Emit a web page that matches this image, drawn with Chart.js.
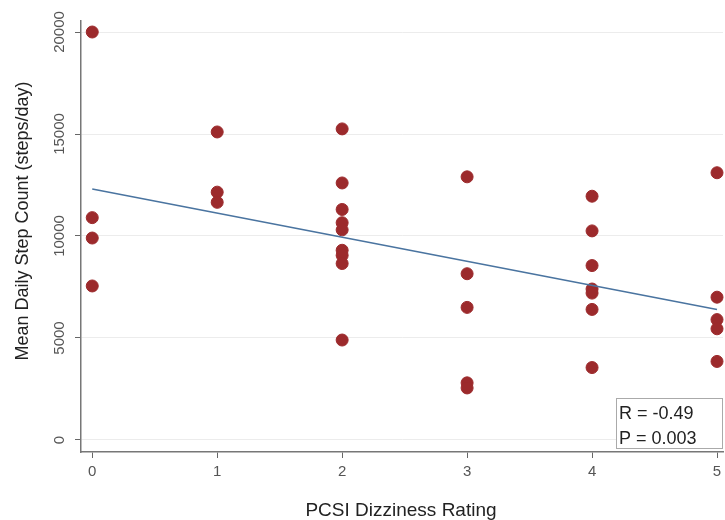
<!DOCTYPE html>
<html>
<head>
<meta charset="utf-8">
<script src="https://cdn.jsdelivr.net/npm/chart.js@4.4.1/dist/chart.umd.min.js"></script>
<style>
    html, body { margin: 0; padding: 0; background: #fff; }
    #wrap { width: 725px; height: 520px; position: relative; }
</style>
</head>
<body>
<div id="wrap"><canvas id="scatter"></canvas></div>
<script>
// dizziness rating (x) and mean daily steps (y) per participant
const dizziness = [
    0, 0, 0, 0,
    1, 1, 1,
    2, 2, 2, 2, 2, 2, 2, 2, 2,
    3, 3, 3, 3, 3,
    4, 4, 4, 4, 4, 4, 4,
    5, 5, 5, 5, 5
];
const steps = [
    20000, 10900, 9900, 7550,
    15100, 12150, 11650,
    15250, 12600, 11300, 10650, 10300, 9300, 9050, 8650, 4900,
    12900, 8150, 6500, 2800, 2550,
    11950, 10250, 8550, 7400, 7200, 6400, 3550,
    13100, 7000, 5900, 5450, 3850
];
const fitX = [0, 5];
const fitY = [12300, 6400];
const xTicks = [0, 1, 2, 3, 4, 5];
const yTicks = [0, 5000, 10000, 15000, 20000];
const statLines = ['R = -0.49', 'P = 0.003'];

const FONT = '"Liberation Sans", Arial, sans-serif';

// tick labels (y ones are vertical), axis titles and the stats box are drawn here
const extras = {
    id: 'extras',
    afterDraw(chart) {
        const ctx = chart.ctx;
        const x = chart.scales.x;
        const y = chart.scales.y;
        const area = chart.chartArea;
        ctx.save();

        ctx.fillStyle = '#555';
        ctx.font = '15px ' + FONT;
        ctx.textAlign = 'center';
        ctx.textBaseline = 'middle';
        yTicks.forEach(v => {
            ctx.save();
            ctx.translate(60, y.getPixelForValue(v));
            ctx.rotate(-Math.PI / 2);
            ctx.fillText(String(v), 0, 0);
            ctx.restore();
        });
        xTicks.forEach(v => {
            ctx.fillText(String(v), x.getPixelForValue(v), 472);
        });

        ctx.fillStyle = '#222';
        ctx.font = '18px ' + FONT;
        ctx.save();
        ctx.translate(23, 221);
        ctx.rotate(-Math.PI / 2);
        ctx.fillText('Mean Daily Step Count (steps/day)', 0, 0);
        ctx.restore();

        ctx.font = '19px ' + FONT;
        ctx.textBaseline = 'alphabetic';
        ctx.fillText('PCSI Dizziness Rating', 401, 516);

        // stats box
        const bx = area.right - 107, by = area.bottom - 54;
        ctx.fillStyle = '#fff';
        ctx.fillRect(bx, by, 107, 51);
        ctx.strokeStyle = '#aaa';
        ctx.lineWidth = 1;
        ctx.strokeRect(bx + 0.5, by + 0.5, 106, 50);
        ctx.fillStyle = '#222';
        ctx.textAlign = 'left';
        ctx.font = '18px ' + FONT;
        ctx.fillText(statLines[0], bx + 3, by + 21);
        ctx.fillText(statLines[1], bx + 3, by + 46);
        ctx.restore();
    }
};

const ctx = document.getElementById('scatter').getContext('2d');
new Chart(ctx, {
    type: 'scatter',
    data: {
        datasets: [{
            label: 'Participants',
            data: dizziness.map((d, i) => ({ x: d, y: steps[i] })),
            backgroundColor: '#9c2a2c',
            borderColor: '#9c2a2c',
            pointRadius: 6,
            clip: false,
            order: 2
        }, {
            type: 'line',
            label: 'Fit',
            data: fitX.map((d, i) => ({ x: d, y: fitY[i] })),
            borderColor: '#4a74a0',
            borderWidth: 1.6,
            pointRadius: 0,
            fill: false,
            order: 1
        }]
    },
    options: {
        responsive: true,
        maintainAspectRatio: false,
        animation: false,
        layout: {
            autoPadding: false,
            padding: { top: 21, right: 2, left: 0, bottom: 0 }
        },
        scales: {
            x: {
                type: 'linear',
                min: -0.09,
                max: 5.048,
                afterBuildTicks: scale => { scale.ticks = xTicks.map(v => ({ value: v })); },
                afterFit: scale => { scale.height = 68; },
                grid: { color: 'transparent', tickColor: '#666', tickLength: 6, drawTicks: true },
                border: { color: '#777', width: 1.5 },
                ticks: { display: false }
            },
            y: {
                type: 'linear',
                min: -590,
                max: 20540,
                afterBuildTicks: scale => { scale.ticks = yTicks.map(v => ({ value: v })); },
                afterFit: scale => { scale.width = 81; },
                grid: { color: '#ececec', tickColor: '#666', tickLength: 6, drawTicks: true },
                border: { color: '#777', width: 1.5 },
                ticks: { display: false }
            }
        },
        plugins: {
            legend: { display: false },
            tooltip: { enabled: false }
        }
    },
    plugins: [extras]
});
</script>
</body>
</html>
